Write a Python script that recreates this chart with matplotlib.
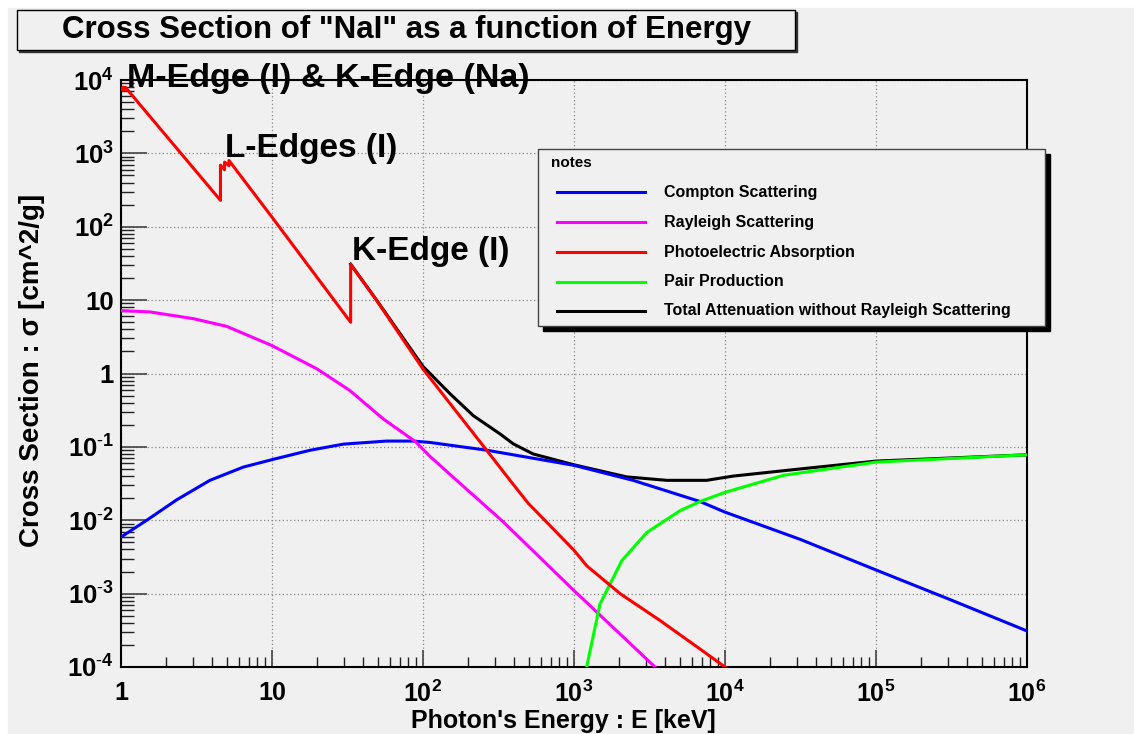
import matplotlib
matplotlib.use("Agg")
import matplotlib.pyplot as plt
from matplotlib.patches import Rectangle
from matplotlib.lines import Line2D
from matplotlib.ticker import LogLocator, NullFormatter

plt.rcParams["font.family"] = ["Liberation Sans", "DejaVu Sans"]
plt.rcParams["mathtext.fontset"] = "custom"
plt.rcParams["mathtext.rm"] = "Liberation Sans"
plt.rcParams["mathtext.bf"] = "Liberation Sans:bold"

# ============= data (keV, cm^2/g) ===========#
e_compton = [1, 1.48, 2.34, 3.88, 6.45, 10, 17.9, 29.7, 57.5, 86, 111, 265,
             1000, 2460, 6830, 10000, 31400, 100000, 309000, 1e6]
compton = [5.9e-3, 0.010, 0.019, 0.035, 0.053, 0.067, 0.090, 0.109, 0.120, 0.120,
           0.115, 0.090, 0.056, 0.035, 0.018, 0.0129, 5.5e-3, 2.1e-3, 8.3e-4, 3.1e-4]

e_rayleigh = [1, 1.56, 3.0, 5.0, 10, 19.8, 32.8, 54.6, 90, 111, 167, 340, 1000, 3440]
rayleigh = [7.2, 6.9, 5.6, 4.4, 2.4, 1.16, 0.586, 0.24, 0.116, 0.0745, 0.035,
            9.5e-3, 1.1e-3, 1.0e-4]

e_photo = [1.0, 1.035, 1.035, 1.072, 1.072, 4.557, 4.557, 4.852, 4.852, 5.188, 5.188,
           10, 33.17, 33.17, 49.3, 100, 265, 377, 498, 1000, 1213, 2020, 3715, 6830, 10000]
photo = [7700, 7200, 8000, 7500, 7900, 229, 690, 600, 760, 680, 800,
         135, 5.0, 30.7, 9.9, 1.15, 0.089, 0.035, 0.017, 3.9e-3, 2.4e-3, 1.0e-3,
         4.3e-4, 1.76e-4, 1.0e-4]

e_pair = [1213, 1486, 2070, 3030, 5040, 6830, 10000, 24400, 100000, 1e6]
pair = [1.0e-4, 7.2e-4, 2.8e-3, 6.8e-3, 0.0135, 0.018, 0.024, 0.041, 0.062, 0.078]

e_total = [33.17, 49.3, 100, 151, 215, 324, 396, 537, 1000, 2230, 4110, 7560,
           11350, 31400, 100000, 1e6]
total = [30.9, 10.0, 1.25, 0.53, 0.267, 0.15, 0.11, 0.080, 0.057, 0.039, 0.035,
         0.035, 0.040, 0.050, 0.064, 0.078]

x_ticks = [1, 10, 1e2, 1e3, 1e4, 1e5, 1e6]
x_labels = ["1", "10", r"$\mathbf{10^{2}}$", r"$\mathbf{10^{3}}$", r"$\mathbf{10^{4}}$",
            r"$\mathbf{10^{5}}$", r"$\mathbf{10^{6}}$"]
y_ticks = [1e-4, 1e-3, 1e-2, 1e-1, 1, 10, 1e2, 1e3, 1e4]
y_labels = [r"$\mathbf{10^{\text{-}4}}$", r"$\mathbf{10^{\text{-}3}}$",
            r"$\mathbf{10^{\text{-}2}}$", r"$\mathbf{10^{\text{-}1}}$", "1", "10",
            r"$\mathbf{10^{2}}$", r"$\mathbf{10^{3}}$", r"$\mathbf{10^{4}}$"]

names = ["Compton Scattering", "Rayleigh Scattering", "Photoelectric Absorption",
         "Pair Production", "Total Attenuation without Rayleigh Scattering"]
colors = ["#0000ff", "#ff00ff", "#ff0000", "#00ff00", "#000000"]

W, H = 1134, 734
BG = "#f0f0f0"


def fx(x):
    return x / W


def fy(y):
    return 1 - y / H


fig = plt.figure(figsize=(W / 100, H / 100), dpi=100)
fig.patch.set_facecolor("white")
fig.add_artist(Rectangle((fx(8), 0), 1, fy(8), transform=fig.transFigure,
                         color=BG, zorder=-10))

ax = fig.add_axes([fx(121), fy(667), (1027 - 121) / W, (667 - 80) / H])
ax.set_facecolor(BG)
ax.set_xscale("log")
ax.set_yscale("log")
ax.set_xlim(1, 1e6)
ax.set_ylim(1e-4, 1e4)

lw = 2.2
ax.plot(e_total, total, color=colors[4], lw=lw, zorder=2)
ax.plot(e_compton, compton, color=colors[0], lw=lw, zorder=3)
ax.plot(e_rayleigh, rayleigh, color=colors[1], lw=lw, zorder=3)
ax.plot(e_pair, pair, color=colors[3], lw=lw, zorder=3)
ax.plot(e_photo, photo, color=colors[2], lw=lw, zorder=4)

ax.set_xticks(x_ticks, x_labels)
ax.set_yticks(y_ticks, y_labels)
ax.xaxis.set_minor_locator(LogLocator(base=10, subs=range(2, 10), numticks=20))
ax.yaxis.set_minor_locator(LogLocator(base=10, subs=range(2, 10), numticks=20))
ax.xaxis.set_minor_formatter(NullFormatter())
ax.yaxis.set_minor_formatter(NullFormatter())
ax.tick_params(axis="x", which="major", direction="in", length=12, width=1.2,
               color="#444444", labelsize=18, pad=10)
ax.tick_params(axis="x", which="minor", direction="in", length=7, width=1,
               color="#222222")
ax.tick_params(axis="y", which="major", direction="in", length=19, width=1.2,
               color="#444444", labelsize=18.5, pad=5)
ax.tick_params(axis="y", which="minor", direction="in", length=9, width=1,
               color="#222222")
for lab in ax.get_xticklabels() + ax.get_yticklabels():
    lab.set_fontweight("bold")

ax.set_axisbelow(True)
ax.grid(True, which="major", linestyle=(0, (1, 2)), color="#888888", lw=0.9)
for sp in ax.spines.values():
    sp.set_linewidth(1.5)
    sp.set_color("black")

# edge annotations
ax.text(1.096, 8040, "M-Edge (I) & K-Edge (Na)", fontsize=24.5, fontweight="bold",
        va="baseline", clip_on=False, zorder=1)
ax.text(4.88, 890, "L-Edges (I)", fontsize=24, fontweight="bold", va="baseline")
ax.text(33.8, 35.3, "K-Edge (I)", fontsize=24, fontweight="bold", va="baseline")

# title box
fig.add_artist(Rectangle((fx(19), fy(52)), (795 - 17) / W, 40 / H,
                         transform=fig.transFigure, color="#333333", zorder=5))
fig.add_artist(Rectangle((fx(17), fy(50)), (795 - 17) / W, 40 / H,
                         transform=fig.transFigure, facecolor=BG,
                         edgecolor="black", lw=1, zorder=6))
fig.text(fx(406), fy(30), 'Cross Section of "NaI" as a function of Energy',
         fontsize=22.5, fontweight="bold", ha="center", va="center", zorder=7)

# axis titles
fig.text(fx(563), fy(721), "Photon's Energy : E [keV]", fontsize=18,
         fontweight="bold", ha="center", va="center")
fig.text(fx(32), fy(370), "Cross Section : \u03c3 [cm^2/g]", fontsize=20,
         fontweight="bold", ha="center", va="center", rotation=90)

# legend box
fig.add_artist(Rectangle((fx(543), fy(331)), (1045 - 538) / W, (326 - 149) / H,
                         transform=fig.transFigure, color="black", zorder=5))
fig.add_artist(Rectangle((fx(538), fy(326)), (1045 - 538) / W, (326 - 149) / H,
                         transform=fig.transFigure, facecolor=BG,
                         edgecolor="#444444", lw=1, zorder=6))
fig.text(fx(551), fy(163), "notes", fontsize=11, fontweight="bold",
         va="center", zorder=7)
rows = [192, 222, 252, 282, 311]
for name, c, y in zip(names, colors, rows):
    fig.add_artist(Line2D([fx(557), fx(645)], [fy(y), fy(y)], color=c, lw=lw,
                          transform=fig.transFigure, zorder=7))
    fig.text(fx(664), fy(y), name, fontsize=11.5, fontweight="bold",
             va="center", zorder=7)

fig.savefig("out.png", dpi=100, facecolor=fig.get_facecolor())
